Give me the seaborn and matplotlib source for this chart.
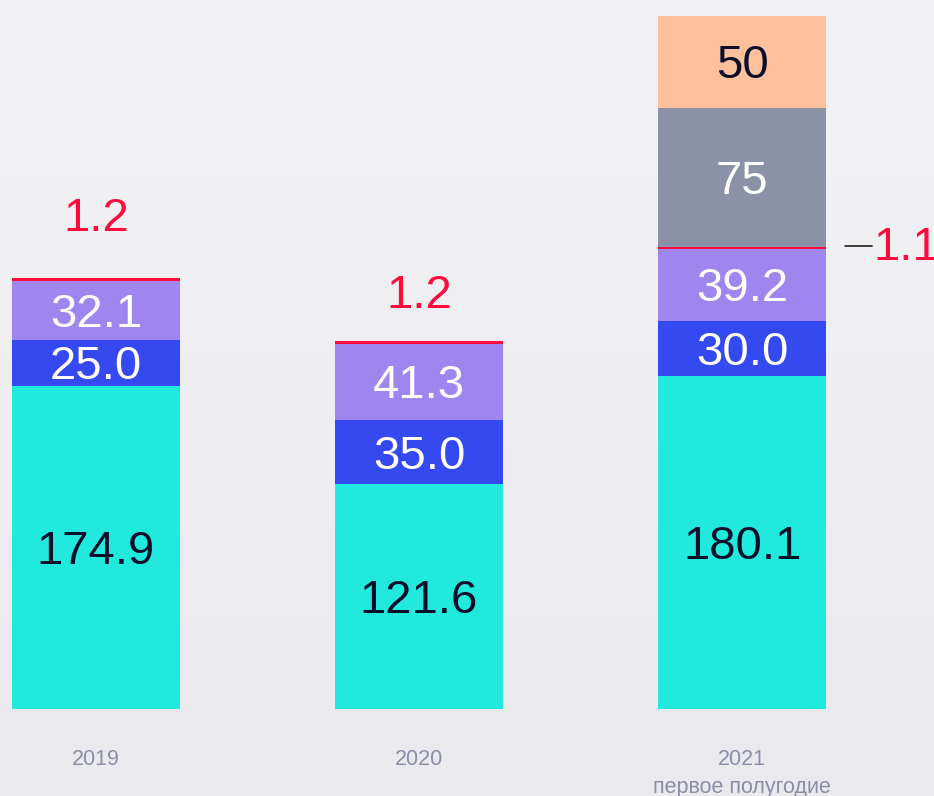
import numpy as np
import pandas as pd
import matplotlib
matplotlib.use("Agg")
import matplotlib.pyplot as plt
import seaborn as sns

# Values
years = ["2019", "2020", "2021"]
base = [174.9, 121.6, 180.1]
blue = [25.0, 35.0, 30.0]
purple = [32.1, 41.3, 39.2]
red = [1.2, 1.2, 1.1]
grey = [0, 0, 75]
orange = [0, 0, 50]

series = [base, blue, purple, red, grey, orange]
colors = ["#22e9de", "#3549f0", "#9f85ee", "#ff0a3c", "#8b91a6", "#ffc09c"]
text_colors = ["#0a0f2c", "white", "white", None, "white", "#0a0f2c"]

sns.set_style("white")
plt.rcParams["font.family"] = ["Liberation Sans", "DejaVu Sans"]

fig = plt.figure(figsize=(9.34, 7.96), dpi=100)
ax = fig.add_axes([0, 0, 1, 1])

# background gradient
grad = np.linspace(0, 1, 256).reshape(-1, 1)
cmap = matplotlib.colors.LinearSegmentedColormap.from_list("bg", ["#f3f3f5", "#eaeaee"])
ax.imshow(grad, extent=[-0.297, 2.594, -47.1, 383.9], aspect="auto", cmap=cmap, zorder=0)

# stacked bars: draw cumulative totals from the top down
cum = np.cumsum(np.array(series), axis=0)
for i in range(len(series) - 1, -1, -1):
    df = pd.DataFrame({"year": years, "value": cum[i]})
    sns.barplot(data=df, x="year", y="value", color=colors[i], saturation=1,
                width=0.52, linewidth=0, ax=ax, zorder=2)

# segment labels (baseline shifted by half the cap height so digits sit centred)
half_cap = 8.9
for i, vals in enumerate(series):
    if text_colors[i] is None:
        continue
    for j, v in enumerate(vals):
        if v == 0:
            continue
        bottom = cum[i][j] - v
        label = f"{v:.0f}" if i >= 4 else f"{v:.1f}"
        ax.text(j, bottom + v / 2 - half_cap, label, ha="center", va="baseline",
                fontsize=34, color=text_colors[i], zorder=3)

# red values above/near the bars
ax.text(0, 267.5 - half_cap, "1.2", ha="center", va="baseline", fontsize=34, color="#ff0a3c")
ax.text(1, 225.8 - half_cap, "1.2", ha="center", va="baseline", fontsize=34, color="#ff0a3c")
ax.plot([2.32, 2.403], [250.6, 250.6], color="#222222", lw=1.2, zorder=3)
ax.text(2.405, 252.0 - half_cap, "1.1", ha="left", va="baseline", fontsize=34,
        color="#ff0a3c")

# category labels
for j, y in enumerate(years):
    ax.text(j, -27.6, y, ha="center", va="center", fontsize=15.5, color="#8a8fa6")
ax.text(2, -42.4, "первое полугодие", ha="center", va="center", fontsize=15.5,
        color="#8a8fa6")

ax.set_xlim(-0.297, 2.594)
ax.set_ylim(-47.1, 383.9)
ax.axis("off")

fig.savefig("out.png", dpi=100)
